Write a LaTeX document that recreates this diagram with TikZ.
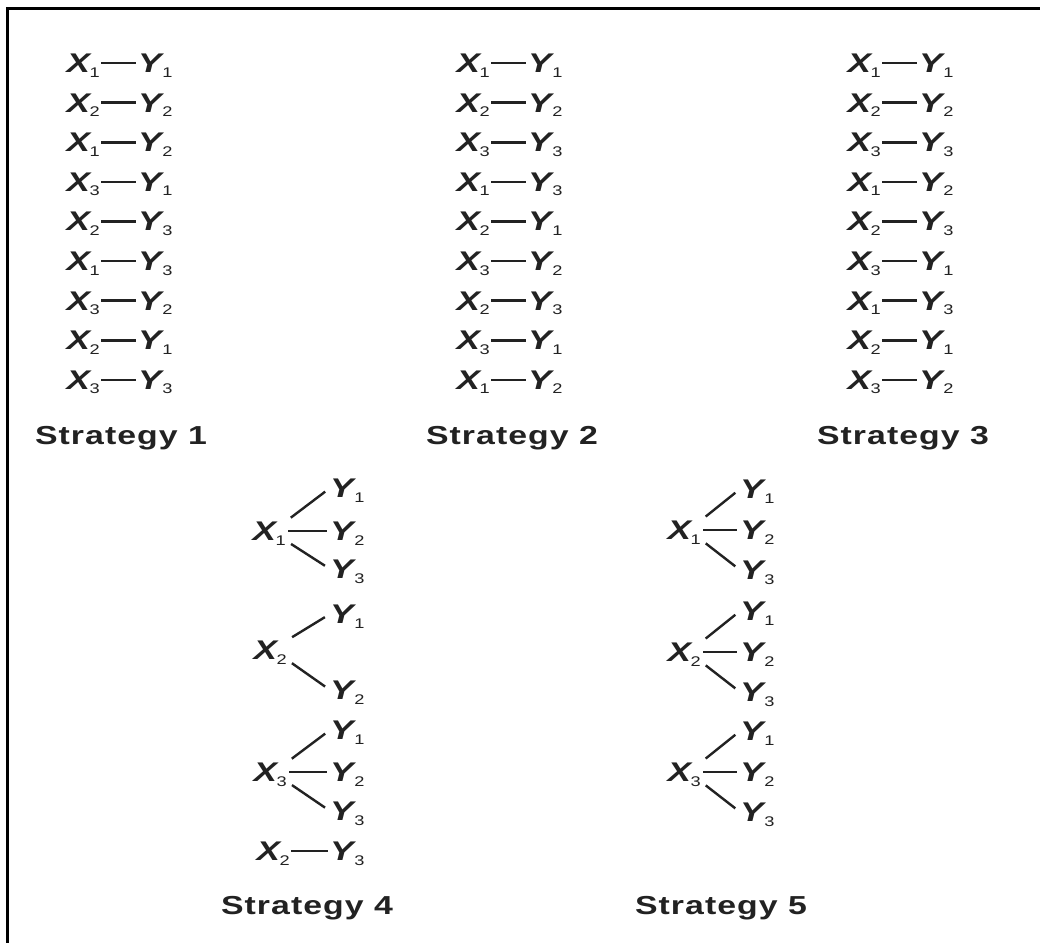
\documentclass[tikz,border=0pt]{standalone}
\usepackage{fontspec}
\setmainfont{Liberation Sans}[FakeStretch=1.3]
\definecolor{ink}{RGB}{34,34,34}
% variable with a subscript index, set close to the letter
\newcommand\xv[1]{\textbf{\textit{X}}\kern-2pt\raisebox{-4.5pt}{\fontsize{14}{14}\selectfont #1}}
\newcommand\yv[1]{\textbf{\textit{Y}}\kern-2pt\raisebox{-4.5pt}{\fontsize{14}{14}\selectfont #1}}
\begin{document}
\begin{tikzpicture}[x=1pt,y=-1pt,
  var/.style={inner sep=0pt,text height=19pt,text depth=0pt,text=ink,
    font=\fontsize{27}{30}\selectfont},
  caption/.style={inner sep=0pt,text height=19pt,text depth=0pt,text=ink,
    font=\fontsize{26}{30}\selectfont\bfseries\addfontfeatures{LetterSpace=4}},
  pairline/.style={draw=ink,line width=2.6pt,shorten <=1pt,shorten >=2pt},
  fanline/.style={draw=ink,line width=2.4pt,shorten <=6pt,shorten >=6pt},
  midline/.style={draw=ink,line width=2.6pt,shorten <=2pt,shorten >=3pt},
  frame/.style={draw=black,line width=3pt}]
\useasboundingbox (0,0) rectangle (1040,943);
\fill[white] (0,0) rectangle (1040,943);
% frame: top and left edges
\coordinate (ftr) at (1040,8);
\coordinate (ftl) at (7,8);
\coordinate (fbl) at (7,943);
\draw[frame] (ftr) -- (ftl) -- (fbl);

% Strategies 1-3: lists of pairs
\foreach \i/\a/\b in {0/1/1,1/2/2,2/1/2,3/3/1,4/2/3,5/1/3,6/3/2,7/2/1,8/3/3}{
  \node[var,anchor=east] (sa\i x) at (100,{63+39.6*\i}) {\xv{\a}};
  \node[var,anchor=west] (sa\i y) at (138,{63+39.6*\i}) {\yv{\b}};
  \draw[pairline] (sa\i x.east) -- (sa\i y.west);
}
\foreach \i/\a/\b in {0/1/1,1/2/2,2/3/3,3/1/3,4/2/1,5/3/2,6/2/3,7/3/1,8/1/2}{
  \node[var,anchor=east] (sb\i x) at (490,{63+39.6*\i}) {\xv{\a}};
  \node[var,anchor=west] (sb\i y) at (528,{63+39.6*\i}) {\yv{\b}};
  \draw[pairline] (sb\i x.east) -- (sb\i y.west);
}
\foreach \i/\a/\b in {0/1/1,1/2/2,2/3/3,3/1/2,4/2/3,5/3/1,6/1/3,7/2/1,8/3/2}{
  \node[var,anchor=east] (sc\i x) at (881,{63+39.6*\i}) {\xv{\a}};
  \node[var,anchor=west] (sc\i y) at (919,{63+39.6*\i}) {\yv{\b}};
  \draw[pairline] (sc\i x.east) -- (sc\i y.west);
}
\node[caption] (capa) at (121,435) {Strategy 1};
\node[caption] (capb) at (512,435) {Strategy 2};
\node[caption] (capc) at (903,435) {Strategy 3};

% Strategy 4: fans
\node[var,anchor=east] (d1x) at (286,531) {\xv{1}};
\node[var,anchor=west] (d1y1) at (330,488) {\yv{1}};
\node[var,anchor=west] (d1y2) at (330,531) {\yv{2}};
\node[var,anchor=west] (d1y3) at (330,569) {\yv{3}};
\draw[fanline] (d1x.north east) -- (d1y1.west);
\draw[midline] (d1x.east) -- (d1y2.west);
\draw[fanline] (d1x.south east) -- (d1y3.west);

\node[var,anchor=east] (d2x) at (287,650) {\xv{2}};
\node[var,anchor=west] (d2y1) at (330,614) {\yv{1}};
\node[var,anchor=west] (d2y2) at (330,690) {\yv{2}};
\draw[fanline] (d2x.north east) -- (d2y1.west);
\draw[fanline] (d2x.south east) -- (d2y2.west);

\node[var,anchor=east] (d3x) at (287,772) {\xv{3}};
\node[var,anchor=west] (d3y1) at (330,730) {\yv{1}};
\node[var,anchor=west] (d3y2) at (330,772) {\yv{2}};
\node[var,anchor=west] (d3y3) at (330,811) {\yv{3}};
\draw[fanline] (d3x.north east) -- (d3y1.west);
\draw[midline] (d3x.east) -- (d3y2.west);
\draw[fanline] (d3x.south east) -- (d3y3.west);

\node[var,anchor=east] (d4x) at (290,851) {\xv{2}};
\node[var,anchor=west] (d4y) at (330,851) {\yv{3}};
\draw[pairline] (d4x.east) -- (d4y.west);

\node[caption] (capd) at (307,905) {Strategy 4};

% Strategy 5: three full fans
\foreach \k/\yc in {1/530,2/652,3/772}{
  \node[var,anchor=east] (e\k x) at (701,\yc) {\xv{\k}};
  \node[var,anchor=west] (e\k y1) at (740,\yc-41) {\yv{1}};
  \node[var,anchor=west] (e\k y2) at (740,\yc) {\yv{2}};
  \node[var,anchor=west] (e\k y3) at (740,\yc+40) {\yv{3}};
  \draw[fanline] (e\k x.north east) -- (e\k y1.west);
  \draw[midline] (e\k x.east) -- (e\k y2.west);
  \draw[fanline] (e\k x.south east) -- (e\k y3.west);
}
\node[caption] (cape) at (721,905) {Strategy 5};
\end{tikzpicture}
\end{document}
